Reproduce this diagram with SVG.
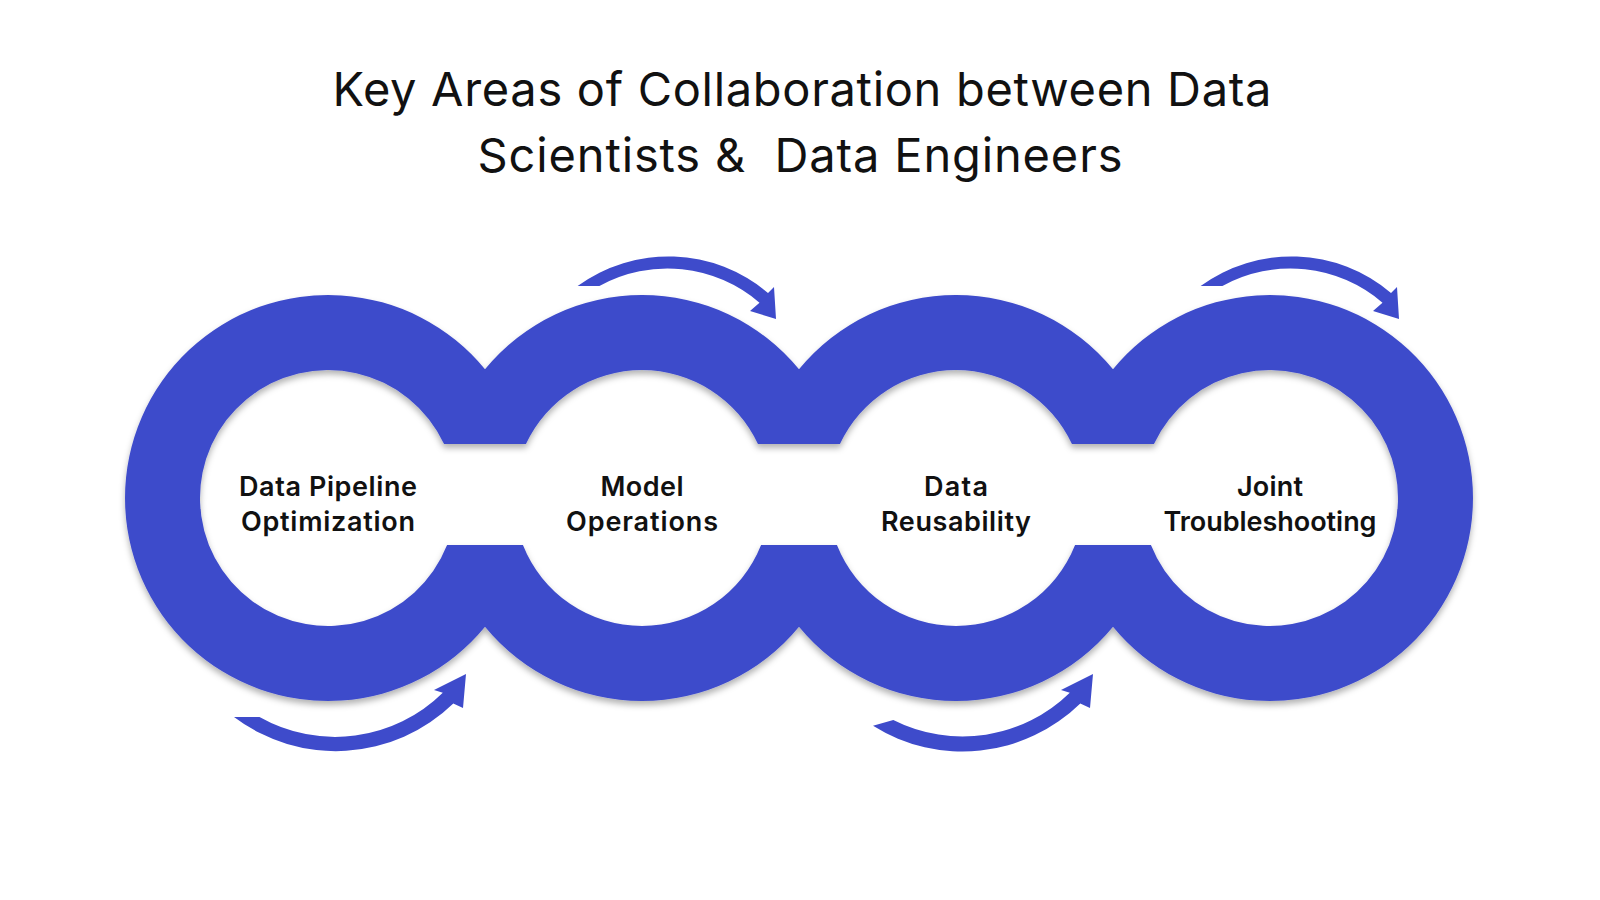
<svg xmlns="http://www.w3.org/2000/svg" width="1600" height="900" viewBox="0 0 1600 900">
  <style>
    .title { font-family: Inter, "Liberation Sans", sans-serif; font-size: 47px; font-weight: 400; fill: #111; }
    .label { font-family: Inter, "Liberation Sans", sans-serif; font-size: 27px; font-weight: 600; fill: #111; }
    .blue { fill: #3e4bcb; }
  </style>
  <defs>
    <filter id="shadow" x="-10%" y="-10%" width="120%" height="130%">
      <feDropShadow dx="0" dy="4" stdDeviation="3" flood-color="#000" flood-opacity="0.3"/>
    </filter>
  </defs>
  <rect width="1600" height="900" fill="#ffffff"/>

  <g id="title">
    <text class="title" x="802" y="106" text-anchor="middle" textLength="939" lengthAdjust="spacing">Key Areas of Collaboration between Data</text>
    <text class="title" x="800" y="172" text-anchor="middle" textLength="645" lengthAdjust="spacing" xml:space="preserve">Scientists &amp;  Data Engineers</text>
  </g>

  <g id="rings" filter="url(#shadow)">
    <path class="blue" fill-rule="evenodd" d="
      M 485 369.3
      A 203 203 0 0 1 799 369.3
      A 203 203 0 0 1 1113 369.3
      A 203 203 0 1 1 1113 626.7
      A 203 203 0 0 1 799 626.7
      A 203 203 0 0 1 485 626.7
      A 203 203 0 1 1 485 369.3 Z
      M 444.05 444
      L 525.95 444
      A 128 128 0 0 1 757.95 444
      L 839.95 444
      A 128 128 0 0 1 1071.95 444
      L 1153.95 444
      A 128 128 0 1 1 1150.94 545
      L 1075.06 545
      A 128 128 0 0 1 836.94 545
      L 761.06 545
      A 128 128 0 0 1 522.94 545
      L 447.06 545
      A 128 128 0 1 1 444.05 444 Z"/>
  </g>

  <g id="node-data-pipeline">
    <text class="label" x="328" y="496" text-anchor="middle" textLength="178" lengthAdjust="spacing">Data Pipeline</text>
    <text class="label" x="328" y="531" text-anchor="middle" textLength="174" lengthAdjust="spacing">Optimization</text>
  </g>
  <g id="node-model-operations">
    <text class="label" x="642" y="496" text-anchor="middle" textLength="83" lengthAdjust="spacing">Model</text>
    <text class="label" x="642" y="531" text-anchor="middle" textLength="152" lengthAdjust="spacing">Operations</text>
  </g>
  <g id="node-data-reusability">
    <text class="label" x="956" y="496" text-anchor="middle" textLength="64" lengthAdjust="spacing">Data</text>
    <text class="label" x="956" y="531" text-anchor="middle" textLength="150" lengthAdjust="spacing">Reusability</text>
  </g>
  <g id="node-joint-troubleshooting">
    <text class="label" x="1270" y="496" text-anchor="middle" textLength="66" lengthAdjust="spacing">Joint</text>
    <text class="label" x="1270" y="531" text-anchor="middle" textLength="213" lengthAdjust="spacing">Troubleshooting</text>
  </g>

  <g id="connectors">
    <defs>
      <path id="arrow-top" class="blue" d="M 577.6 286 A 154 154 0 0 1 768 293 L 774 287 L 776 319 L 750 311 L 759.5 302.7 A 141 141 0 0 0 599.4 286 Z"/>
    </defs>
    <use href="#arrow-top"/>
    <use href="#arrow-top" transform="translate(623 0)"/>
    <path class="blue" d="M 234 717 A 168.5 168.5 0 0 0 453.3 703.4 L 463 708 L 466 674 L 434 690 L 442.8 692.7 A 153.5 153.5 0 0 1 259.5 717 Z"/>
    <path class="blue" transform="translate(627 0)" d="M 246 725.8 A 168.5 168.5 0 0 0 453.3 703.4 L 463 708 L 466 674 L 434 690 L 442.8 692.7 A 153.5 153.5 0 0 1 266.3 720 Z"/>
  </g>
</svg>
